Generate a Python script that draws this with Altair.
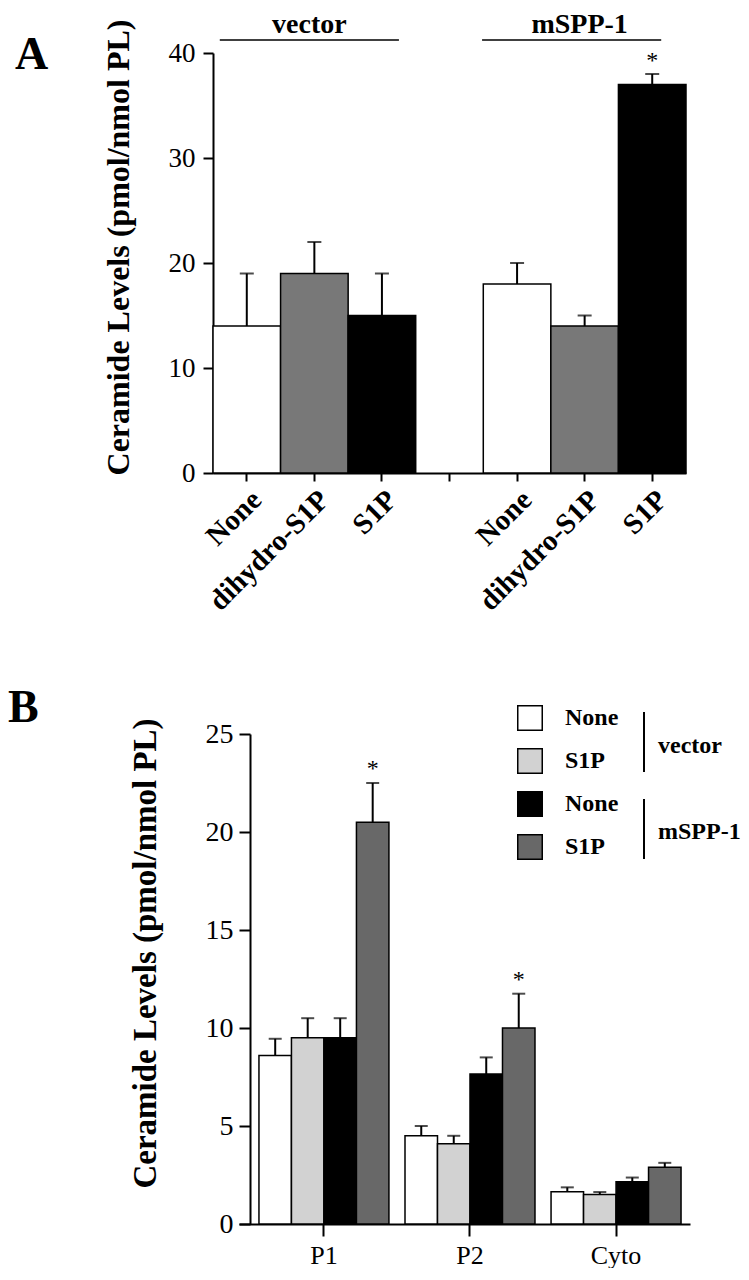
import altair as alt
import pandas as pd

SERIF = "Liberation Serif"

# ---------------- Panel A data ----------------
a_group = ["vector", "vector", "vector", "mSPP-1", "mSPP-1", "mSPP-1"]
a_treat = ["None", "dihydro-S1P", "S1P", "None", "dihydro-S1P", "S1P"]
a_mean = [14, 19, 15, 18, 14, 37]
a_sem = [5, 3, 4, 2, 1, 1]
a_star = ["", "", "", "", "", "*"]
a_slots = ["vector|None", "vector|dihydro-S1P", "vector|S1P", "gap",
           "mSPP-1|None", "mSPP-1|dihydro-S1P", "mSPP-1|S1P"]
a_treat_order = ["None", "dihydro-S1P", "S1P"]
a_colors = ["#ffffff", "#787878", "#000000"]
a_ticks = [0, 10, 20, 30, 40]
a_headers = ["vector", "mSPP-1"]

# ---------------- Panel B data ----------------
b_fraction = ["P1", "P2", "Cyto"]
b_series = ["vector None", "vector S1P", "mSPP-1 None", "mSPP-1 S1P"]
b_colors = ["#ffffff", "#d2d2d2", "#000000", "#686868"]
b_vec_none = [8.6, 4.5, 1.65]
b_vec_none_err = [0.85, 0.5, 0.22]
b_vec_s1p = [9.5, 4.1, 1.5]
b_vec_s1p_err = [1.0, 0.4, 0.13]
b_msp_none = [9.5, 7.65, 2.15]
b_msp_none_err = [1.0, 0.85, 0.22]
b_msp_s1p = [20.5, 10.0, 2.9]
b_msp_s1p_err = [2.0, 1.75, 0.22]
b_msp_s1p_star = ["*", "*", ""]
b_ticks = [0, 5, 10, 15, 20, 25]

TITLE = "Ceramide Levels (pmol/nmol PL)"

# Both panels share the same origin in the vertical stack; panel A's plot
# starts 37 px further left than panel B's, so A's x range begins at -37.
A_SHIFT = 37
A_W = 473

# ---------------- Panel A ----------------
dfA = pd.DataFrame({
    "slot": [f"{g}|{t}" for g, t in zip(a_group, a_treat)],
    "treat": a_treat,
    "mean": a_mean,
    "top": [m + s for m, s in zip(a_mean, a_sem)],
    "star": a_star,
})

xA_scale = alt.Scale(domain=a_slots, paddingInner=0, paddingOuter=0, range=[-A_SHIFT, A_W - A_SHIFT])
xA = alt.X("slot:N", scale=xA_scale,
           axis=alt.Axis(title=None, labelAngle=-45,
                         labelExpr="datum.value == 'gap' ? '' : split(datum.value, '|')[1]",
                         labelFont=SERIF, labelFontSize=29, labelFontWeight="bold",
                         labelColor="black", tickColor="black", tickWidth=2, tickSize=8,
                         domainColor="black", domainWidth=2, labelPadding=4))
yA_scale = alt.Scale(domain=[0, 40], nice=False)
yA = alt.Y("mean:Q", scale=yA_scale,
           axis=alt.Axis(values=a_ticks, title=TITLE, grid=False, offset=A_SHIFT,
                         titleFont=SERIF, titleFontSize=32, titleFontWeight="bold",
                         titleColor="black", titlePadding=33, titleY=194,
                         labelFont=SERIF, labelFontSize=27, labelColor="black",
                         tickColor="black", tickWidth=2, tickSize=10,
                         domainColor="black", domainWidth=2, labelPadding=8))

barsA = alt.Chart(dfA).mark_bar(stroke="black", strokeWidth=1.5).encode(
    x=xA, y=yA,
    fill=alt.Fill("treat:N", scale=alt.Scale(domain=a_treat_order, range=a_colors), legend=None),
)
errA = alt.Chart(dfA).mark_rule(color="black", strokeWidth=2).encode(
    x=xA, y=alt.Y("mean:Q", scale=yA_scale), y2="top:Q")
capA = alt.Chart(dfA).mark_tick(color="black", thickness=2, size=14, orient="horizontal").encode(
    x=xA, y=alt.Y("top:Q", scale=yA_scale))
starA = alt.Chart(dfA).mark_text(font=SERIF, fontSize=24, dy=-13, color="black").encode(
    x=xA, y=alt.Y("top:Q", scale=yA_scale), text="star:N")

dfH = pd.DataFrame({
    "label": a_headers,
    "slot": ["vector|dihydro-S1P", "mSPP-1|dihydro-S1P"],
    "start": ["vector|None", "mSPP-1|None"],
    "end": ["vector|S1P", "mSPP-1|S1P"],
})
headText = alt.Chart(dfH).mark_text(font=SERIF, fontSize=28, fontWeight="bold",
                                    color="black", dx=-5).encode(
    x=xA, y=alt.value(-28), text="label:N")
headLine1 = alt.Chart(dfH).transform_filter("datum.label == 'vector'").mark_rule(
    color="black", strokeWidth=1.5, xOffset=-27, x2Offset=17).encode(
    x=alt.X("start:N", scale=xA_scale), x2="end:N", y=alt.value(-13))
headLine2 = alt.Chart(dfH).transform_filter("datum.label == 'mSPP-1'").mark_rule(
    color="black", strokeWidth=1.5, xOffset=-35, x2Offset=9).encode(
    x=alt.X("start:N", scale=xA_scale), x2="end:N", y=alt.value(-13))

one = alt.Data(values=[{}])
letterA = alt.Chart(one).mark_text(text="A", font=SERIF, fontSize=46, fontWeight="bold",
                                   align="left", baseline="middle", color="black").encode(
    x=alt.value(-235), y=alt.value(2))

panelA = alt.layer(barsA, errA, capA, starA, headText, headLine1, headLine2, letterA).properties(
    width=A_W - A_SHIFT, height=420)

# ---------------- Panel B ----------------
rows = []
for vals, errs, s in [(b_vec_none, b_vec_none_err, b_series[0]),
                      (b_vec_s1p, b_vec_s1p_err, b_series[1]),
                      (b_msp_none, b_msp_none_err, b_series[2]),
                      (b_msp_s1p, b_msp_s1p_err, b_series[3])]:
    for i, f in enumerate(b_fraction):
        star = b_msp_s1p_star[i] if s == b_series[3] else ""
        rows.append({"fraction": f, "series": s, "mean": vals[i], "top": vals[i] + errs[i], "star": star})
dfB = pd.DataFrame(rows)

# x axis line starts a little left of the y axis, as in the original
xB = alt.X("fraction:N",
           scale=alt.Scale(domain=b_fraction, paddingInner=0.11, paddingOuter=0.099,
                           align=0.69, range=[-11, 440]),
           axis=alt.Axis(title=None, labelAngle=0, labelFont=SERIF, labelFontSize=26,
                         labelColor="black", tickColor="black", tickWidth=2, tickSize=12,
                         domainColor="black", domainWidth=2, labelPadding=6))
xoB = alt.XOffset("series:N", scale=alt.Scale(domain=b_series, paddingInner=0, paddingOuter=0))
yB_scale = alt.Scale(domain=[0, 25], nice=False)
yB = alt.Y("mean:Q", scale=yB_scale,
           axis=alt.Axis(values=b_ticks, title=TITLE, grid=False,
                         titleFont=SERIF, titleFontSize=33, titleFontWeight="bold",
                         titleColor="black", titlePadding=43, titleY=219,
                         labelFont=SERIF, labelFontSize=28, labelColor="black",
                         tickColor="black", tickWidth=2, tickSize=11,
                         domainColor="black", domainWidth=2, labelPadding=6))

barsB = alt.Chart(dfB).mark_bar(stroke="black", strokeWidth=1.5).encode(
    x=xB, xOffset=xoB, y=yB,
    fill=alt.Fill("series:N", scale=alt.Scale(domain=b_series, range=b_colors),
                  legend=alt.Legend(title=None, orient="none", legendX=267, legendY=-29,
                                    symbolType="square", symbolSize=600,
                                    symbolStrokeColor="black", symbolStrokeWidth=1.5,
                                    symbolOpacity=1,
                                    labelFont=SERIF, labelFontSize=24, labelFontWeight="bold",
                                    labelColor="black", labelOffset=22, rowPadding=11,
                                    padding=0,
                                    labelExpr="split(datum.label, ' ')[1]")),
)
errB = alt.Chart(dfB).mark_rule(color="black", strokeWidth=2).encode(
    x=xB, xOffset=xoB, y=alt.Y("mean:Q", scale=yB_scale), y2="top:Q")
capB = alt.Chart(dfB).mark_tick(color="black", thickness=2, size=13, orient="horizontal").encode(
    x=xB, xOffset=xoB, y=alt.Y("top:Q", scale=yB_scale))
starB = alt.Chart(dfB).mark_text(font=SERIF, fontSize=24, dy=-14, color="black").encode(
    x=xB, xOffset=xoB, y=alt.Y("top:Q", scale=yB_scale), text="star:N")

legGroups = pd.DataFrame({"label": ["vector", "mSPP-1"], "ty": [12, 98], "y1": [-22, 65], "y2": [38, 125]})
legLines = alt.Chart(legGroups).mark_rule(color="black", strokeWidth=2).encode(
    x=alt.value(394), y=alt.Y("y1:Q", scale=None), y2="y2:Q")
legText = alt.Chart(legGroups).mark_text(font=SERIF, fontSize=24, fontWeight="bold",
                                         align="left", baseline="middle", color="black").encode(
    x=alt.value(408), y=alt.Y("ty:Q", scale=None), text="label:N")
letterB = alt.Chart(one).mark_text(text="B", font=SERIF, fontSize=46, fontWeight="bold",
                                   align="left", baseline="middle", color="black").encode(
    x=alt.value(-242), y=alt.value(-26))

panelB = alt.layer(barsB, errB, capB, starB, legLines, legText, letterB).properties(
    width=440, height=490)

chart = (
    alt.vconcat(panelA, panelB, spacing=69)
    .resolve_scale(fill="independent")
    .properties(padding={"left": 0, "top": 3, "right": 0, "bottom": 0})
    .configure(font=SERIF)
    .configure_view(stroke=None)
)

chart.save("out.html", embed_options={"renderer": "svg", "actions": False})
